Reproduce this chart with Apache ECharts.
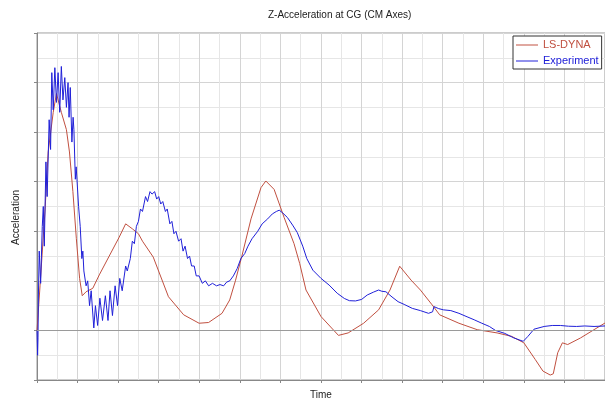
<!DOCTYPE html>
<html>
<head>
<meta charset="utf-8">
<title>Z-Acceleration at CG</title>
<script src="https://cdn.jsdelivr.net/npm/echarts@6/dist/echarts.min.js"></script>
<style>
  html, body { margin: 0; padding: 0; background: #fff; }
  #chart { width: 605px; height: 405px; }
</style>
</head>
<body>
<div id="chart"></div>
<script>
// time is in grid units (one unit = one minor grid step), acceleration in minor steps too
const lsDynaTime = [0, 0.15, 0.4, 0.55, 0.8, 0.96, 1.2, 1.45, 1.6, 1.77, 1.94, 2.1, 2.23, 2.42, 2.75, 3.07, 3.56, 4.05, 4.37, 4.7, 5.0, 5.2, 5.73, 6.48, 7.23, 7.99, 8.46, 9.12, 9.5, 9.78, 10.1, 10.55, 11.04, 11.28, 11.69, 12.18, 12.67, 12.95, 13.26, 14.0, 14.86, 15.34, 16.1, 16.84, 17.4, 17.88, 18.44, 18.9, 19.48, 19.85, 20.8, 21.7, 22.68, 23.4, 24.0, 24.56, 24.94, 25.3, 25.45, 25.67, 25.9, 26.16, 26.8, 27.46, 28]
const lsDynaAccel = [0, 1.8, 4.9, 7.2, 8.8, 9.56, 8.8, 8.1, 7.2, 5.6, 3.7, 2.1, 1.4, 1.56, 1.7, 2.24, 3.0, 3.76, 4.3, 4.1, 3.9, 3.6, 2.96, 1.36, 0.63, 0.29, 0.32, 0.69, 1.23, 2.0, 3.0, 4.5, 5.76, 6.03, 5.69, 4.56, 3.5, 2.7, 1.63, 0.56, -0.2, -0.1, 0.29, 0.83, 1.63, 2.59, 2.03, 1.63, 1.03, 0.63, 0.29, 0.03, -0.1, -0.24, -0.5, -1.17, -1.64, -1.8, -1.75, -0.9, -0.5, -0.57, -0.3, 0.03, 0.3]

const experimentTime = [0, 0.03, 0.05, 0.07, 0.11, 0.18, 0.26, 0.31, 0.36, 0.44, 0.5, 0.6, 0.67, 0.73, 0.8, 0.88, 0.96, 1.04, 1.12, 1.2, 1.28, 1.37, 1.45, 1.53, 1.58, 1.64, 1.72, 1.78, 1.82, 1.89, 1.93, 1.97, 2.05, 2.13, 2.21, 2.26, 2.31, 2.42, 2.5, 2.59, 2.67, 2.8, 2.88, 2.99, 3.1, 3.23, 3.37, 3.5, 3.6, 3.72, 3.85, 3.97, 4.08, 4.2, 4.37, 4.45, 4.6, 4.7, 4.8, 4.9, 5.0, 5.1, 5.2, 5.35, 5.45, 5.57, 5.67, 5.8, 5.9, 6.0, 6.1, 6.2, 6.33, 6.42, 6.55, 6.65, 6.75, 6.85, 6.98, 7.1, 7.2, 7.3, 7.42, 7.52, 7.62, 7.75, 7.85, 7.99, 8.15, 8.3, 8.46, 8.65, 8.85, 9.02, 9.2, 9.35, 9.5, 9.68, 9.87, 10.05, 10.24, 10.4, 10.6, 10.88, 11.1, 11.37, 11.6, 11.8, 11.94, 12.1, 12.34, 12.6, 12.83, 13.1, 13.3, 13.6, 14.0, 14.4, 14.8, 15.15, 15.4, 15.7, 16.0, 16.28, 16.6, 16.84, 17.0, 17.2, 17.5, 17.8, 18.1, 18.5, 18.9, 19.3, 19.5, 19.57, 19.8, 20.04, 20.4, 20.8, 21.2, 21.55, 21.9, 22.3, 22.6, 23.06, 23.5, 23.97, 24.2, 24.5, 25.0, 25.4, 25.8, 26.2, 26.6, 27.0, 27.46, 28]
const experimentAccel = [0, -1.0, -0.3, 1.43, 3.2, 1.9, 4.2, 5.0, 3.4, 6.8, 5.4, 8.5, 7.3, 10.4, 8.9, 10.6, 9.2, 10.4, 8.8, 10.65, 9.3, 10.2, 9.0, 10.0, 8.6, 9.8, 7.6, 8.6, 8.1, 6.1, 6.6, 6.1, 5.0, 4.2, 2.9, 3.2, 2.4, 1.8, 2.0, 1.0, 1.6, 0.1, 1.0, 0.2, 1.3, 0.4, 1.4, 0.4, 1.6, 0.6, 1.8, 1.0, 2.1, 1.6, 2.6, 2.4, 2.9, 3.6, 3.5, 4.2, 4.4, 4.9, 4.8, 5.4, 5.2, 5.6, 5.5, 5.6, 5.3, 5.4, 5.1, 5.2, 4.8, 4.9, 4.3, 4.4, 3.9, 4.0, 3.6, 3.7, 3.2, 3.4, 2.9, 3.0, 2.6, 2.6, 2.2, 2.2, 1.9, 2.0, 1.8, 1.9, 1.8, 1.85, 1.8, 1.95, 2.0, 2.2, 2.5, 2.9, 3.1, 3.4, 3.7, 4.0, 4.3, 4.5, 4.7, 4.8, 4.85, 4.75, 4.56, 4.25, 3.95, 3.4, 2.9, 2.43, 2.1, 1.83, 1.5, 1.29, 1.2, 1.19, 1.25, 1.43, 1.55, 1.63, 1.58, 1.56, 1.35, 1.16, 1.05, 0.89, 0.8, 0.69, 0.75, 0.96, 0.88, 0.83, 0.8, 0.69, 0.55, 0.43, 0.3, 0.16, 0.0, -0.12, -0.3, -0.44, -0.24, 0.05, 0.16, 0.2, 0.2, 0.17, 0.16, 0.18, 0.16, 0.18]

const pair = (xs, ys) => xs.map((x, i) => [x, ys[i]])

const chart = echarts.init(document.getElementById('chart'))

const axisFont = 'Liberation Sans, Arial, sans-serif'

const option = {
  animation: false,
  title: {
    text: 'Z-Acceleration at CG (CM Axes)',
    left: 268,
    top: 10,
    padding: 0,
    textStyle: {
      fontSize: 10,
      fontWeight: 'normal',
      color: '#222',
      fontFamily: axisFont
    }
  },
  legend: {
    orient: 'vertical',
    left: 513,
    top: 36,
    padding: [3, 3, 2, 3],
    itemGap: 4,
    itemWidth: 22,
    itemHeight: 1,
    icon: 'rect',
    borderColor: '#333',
    borderWidth: 1,
    backgroundColor: '#fff',
    textStyle: {
      fontSize: 11,
      lineHeight: 12,
      fontFamily: axisFont
    },
    data: [
      { name: 'LS-DYNA', textStyle: { color: '#c05040' } },
      { name: 'Experiment', textStyle: { color: '#2020d8' } }
    ]
  },
  grid: {
    left: 37,
    top: 33,
    right: -5,
    bottom: 21,
    show: true,
    borderColor: '#999',
    borderWidth: 1
  },
  xAxis: {
    type: 'value',
    name: 'Time',
    nameLocation: 'middle',
    nameGap: 10,
    nameTextStyle: { fontSize: 10, color: '#222', fontFamily: axisFont },
    min: 0,
    max: 28,
    interval: 2,
    axisLine: { onZero: false, lineStyle: { color: '#888' } },
    axisTick: { length: 3, lineStyle: { color: '#888' } },
    axisLabel: { show: false },
    splitLine: { lineStyle: { color: '#d4d4d4' } },
    minorTick: { show: false, splitNumber: 2 },
    minorSplitLine: { show: true, lineStyle: { color: '#e6e6e6' } }
  },
  yAxis: {
    type: 'value',
    name: 'Acceleration',
    nameLocation: 'middle',
    nameGap: 16,
    nameTextStyle: { fontSize: 10, color: '#222', fontFamily: axisFont, padding: [0, 22, 0, 0] },
    min: -2,
    max: 12,
    interval: 2,
    axisLine: { show: true, lineStyle: { color: '#888' } },
    axisTick: { show: true, length: 3, lineStyle: { color: '#888' } },
    axisLabel: { show: false },
    splitLine: { lineStyle: { color: '#d4d4d4' } },
    minorTick: { show: false, splitNumber: 2 },
    minorSplitLine: { show: true, lineStyle: { color: '#e6e6e6' } }
  },
  series: [
    {
      name: 'LS-DYNA',
      type: 'line',
      data: pair(lsDynaTime, lsDynaAccel),
      showSymbol: false,
      symbol: 'none',
      lineStyle: { width: 1, color: '#c05040' },
      itemStyle: { color: '#c05040' },
      markLine: {
        silent: true,
        symbol: ['none', 'none'],
        label: { show: false },
        lineStyle: { color: '#9a9a9a', width: 1, type: 'solid' },
        data: [{ yAxis: 0 }]
      }
    },
    {
      name: 'Experiment',
      type: 'line',
      data: pair(experimentTime, experimentAccel),
      showSymbol: false,
      symbol: 'none',
      lineStyle: { width: 1, color: '#2020d8' },
      itemStyle: { color: '#2020d8' }
    }
  ]
}

chart.setOption(option)
</script>
</body>
</html>
